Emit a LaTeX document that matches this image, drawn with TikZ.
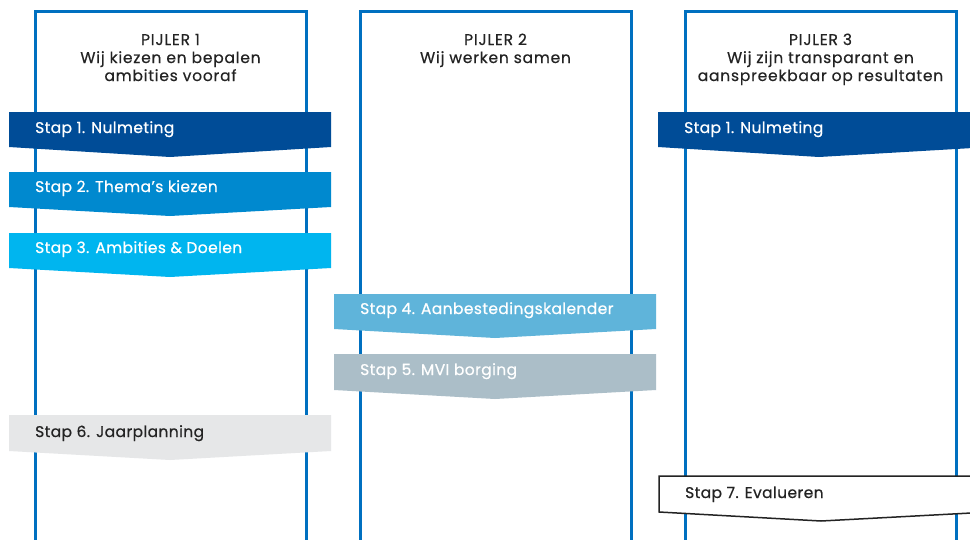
\documentclass[tikz,border=0pt]{standalone}
\usepackage{fontspec}
\setmainfont{Poppins}[FakeBold=0.6,LetterSpace=2.5]
\newfontfamily\headfont{Poppins}[FakeBold=0.5,LetterSpace=5]
\definecolor{pillarblue}{RGB}{0,112,192}
\definecolor{c1}{RGB}{0,76,151}
\definecolor{c2}{RGB}{0,137,207}
\definecolor{c3}{RGB}{0,181,239}
\definecolor{c4}{RGB}{95,180,218}
\definecolor{c5}{RGB}{171,190,200}
\definecolor{c6}{RGB}{230,231,232}
\definecolor{darktext}{RGB}{35,35,35}
\begin{document}
\begin{tikzpicture}[x=1pt,y=-1pt,
  pillar/.style={draw=pillarblue,line width=3pt},
  head/.style={align=center,font=\headfont\fontsize{15.5}{18}\selectfont,text=darktext,anchor=base,inner sep=0pt},
  steptext/.style={anchor=base west,font=\fontsize{15.5}{16}\selectfont,inner sep=0pt},
  lbl/.style={steptext,text=white},
  dlbl/.style={steptext,text=darktext}]
\clip (0,0) rectangle (970,539);
\fill[white] (0,0) rectangle (970,539);
% pillars
\draw[pillar] (35,545) -- (35,11.5) -- (306,11.5) -- (306,545);
\draw[pillar] (360,545) -- (360,11.5) -- (631,11.5) -- (631,545);
\draw[pillar] (685,545) -- (685,11.5) -- (956,11.5) -- (956,545);
% headers
\node[head] (h1a) at (170.5,45) {PIJLER 1};
\node[head] (h1b) at (170.5,63) {Wij kiezen en bepalen};
\node[head] (h1c) at (170.5,81) {ambities vooraf};
\node[head] (h2a) at (495.5,45) {PIJLER 2};
\node[head] (h2b) at (495.5,63) {Wij werken samen};
\node[head] (h3a) at (820.5,45) {PIJLER 3};
\node[head] (h3b) at (820.5,63) {Wij zijn transparant en};
\node[head] (h3c) at (820.5,81) {aanspreekbaar op resultaten};
% banners
\fill[c1] (9,112) -- (331,112) -- (331,147) -- (170,157) -- (9,147) -- cycle;
\node[lbl] (s1) at (35,133) {Stap 1. Nulmeting};
\fill[c2] (9,172) -- (331,172) -- (331,207) -- (170,216) -- (9,207) -- cycle;
\node[lbl] (s2) at (35,192) {Stap 2. Thema’s kiezen};
\fill[c3] (9,233) -- (331,233) -- (331,268) -- (170,277) -- (9,268) -- cycle;
\node[lbl] (s3) at (35,253) {Stap 3. Ambities \& Doelen};
\fill[c4] (334,294) -- (656,294) -- (656,329) -- (495,338) -- (334,329) -- cycle;
\node[lbl] (s4) at (360,314) {Stap 4. Aanbestedingskalender};
\fill[c5] (334,354) -- (656,354) -- (656,390) -- (495,399) -- (334,390) -- cycle;
\node[lbl] (s5) at (360,375) {Stap 5. MVI borging};
\fill[c6] (9,415) -- (331,415) -- (331,451) -- (170,460) -- (9,451) -- cycle;
\node[dlbl] (s6) at (35,437) {Stap 6. Jaarplanning};
\fill[c1] (658,112) -- (990,112) -- (990,147) -- (819,157) -- (658,147) -- cycle;
\node[lbl] (s1b) at (684,133) {Stap 1. Nulmeting};
\draw[fill=white,draw=darktext,line width=1.5pt] (659,476) -- (990,476) -- (990,512) -- (821,521) -- (659,512) -- cycle;
\node[dlbl] (s7) at (685,498) {Stap 7. Evalueren};
\end{tikzpicture}
\end{document}
